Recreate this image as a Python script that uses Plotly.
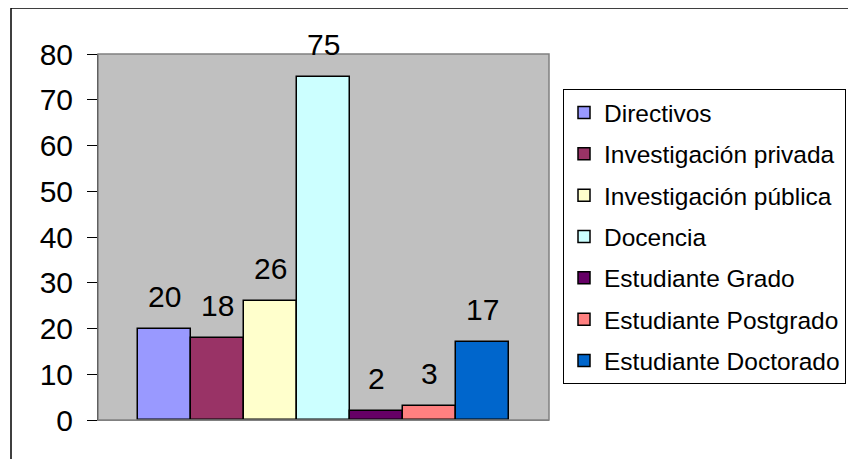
import plotly.graph_objects as go

series_names = ["Directivos", "Investigación privada", "Investigación pública", "Docencia",
                "Estudiante Grado", "Estudiante Postgrado", "Estudiante Doctorado"]
series_values = [20, 18, 26, 75, 2, 3, 17]
series_colors = ["#9999FF", "#993366", "#FFFFCC", "#CCFFFF", "#660066", "#FF8080", "#0066CC"]
y_ticks = [0, 10, 20, 30, 40, 50, 60, 70, 80]

OFF = 8  # page body margin
W, H = 856 - OFF, 459 - OFF
L, T, R, B = 98 - OFF, 54 - OFF, 549 - OFF, 420 - OFF
FONT = "Liberation Sans, Arial, sans-serif"

fig = go.Figure()
for i, (name, val, col) in enumerate(zip(series_names, series_values, series_colors)):
    fig.add_bar(x=[i], y=[val], name=name, width=1, legendgroup=name,
                marker=dict(color=col, line=dict(color="black", width=1.5)))
    fig.add_annotation(x=i, y=val, text=str(val), showarrow=False, yanchor="bottom",
                       yshift=14, font=dict(size=30, color="black", family=FONT))

n = len(series_values)
pad = 0.765
fig.update_xaxes(range=[-0.5 - pad, n - 0.5 + pad], showticklabels=False, ticks="",
                 showgrid=False, zeroline=False, showline=True, linecolor="#808080", linewidth=1)
fig.update_yaxes(range=[0, 80], tickvals=y_ticks, ticks="outside", ticklen=10, tickcolor="black",
                 showgrid=False, zeroline=False, showline=True, linecolor="black", linewidth=1,
                 tickfont=dict(size=30, color="black", family=FONT), ticklabelstandoff=8)

pw, ph = R - L, B - T
def px(x):
    return (x - OFF - L) / pw
def py(y):
    return (B - (y - OFF)) / ph

# plot-area border (gray) and outer chart border
fig.add_shape(type="rect", xref="paper", yref="paper", x0=0, x1=1, y0=0, y1=1,
              line=dict(color="#808080", width=1.5), layer="above")
fig.add_shape(type="rect", xref="paper", yref="paper", x0=px(11), x1=px(900), y0=py(8), y1=py(520),
              line=dict(color="black", width=1.5), layer="below")

fig.update_layout(
    width=W, height=H,
    margin=dict(l=L, r=W - R, t=T, b=H - B, pad=0, autoexpand=False),
    paper_bgcolor="white", plot_bgcolor="#C0C0C0",
    barmode="overlay", bargap=0,
    showlegend=True,
    legend=dict(x=px(563), y=py(89), xanchor="left", yanchor="top",
                bordercolor="black", borderwidth=1, bgcolor="white",
                font=dict(size=24.5, color="black", family=FONT),
                tracegroupgap=6.5, itemwidth=30, traceorder="grouped"),
    font=dict(family=FONT),
)
fig.write_html("out.html")
